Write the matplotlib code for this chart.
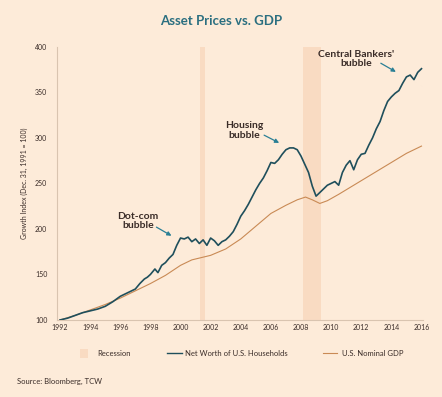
import matplotlib.pyplot as plt
import matplotlib.patches as patches
from matplotlib.lines import Line2D

# Net worth of U.S. households (growth index, Dec 31 1991 = 100)
nw_year = [1992.0, 1992.5, 1993.0, 1993.5, 1994.0, 1994.5, 1995.0, 1995.5, 1996.0, 1996.5,
           1997.0, 1997.3, 1997.6, 1997.8, 1998.0, 1998.3, 1998.5, 1998.75, 1999.0, 1999.25,
           1999.5, 1999.75, 2000.0, 2000.25, 2000.5, 2000.75, 2001.0, 2001.25, 2001.5, 2001.75,
           2002.0, 2002.25, 2002.5, 2002.75, 2003.0, 2003.25, 2003.5, 2003.75, 2004.0, 2004.25,
           2004.5, 2004.75, 2005.0, 2005.25, 2005.5, 2005.75, 2006.0, 2006.25, 2006.5, 2006.75,
           2007.0, 2007.25, 2007.5, 2007.75, 2008.0, 2008.25, 2008.5, 2008.75, 2009.0, 2009.25,
           2009.5, 2009.75, 2010.0, 2010.25, 2010.5, 2010.75, 2011.0, 2011.25, 2011.5, 2011.75,
           2012.0, 2012.25, 2012.5, 2012.75, 2013.0, 2013.25, 2013.5, 2013.75, 2014.0, 2014.25,
           2014.5, 2014.75, 2015.0, 2015.25, 2015.5, 2015.75, 2016.0]
nw_value = [100, 102, 105, 108, 110, 112, 115, 120, 126, 130,
            134, 140, 145, 147, 150, 156, 152, 160, 163, 168,
            172, 182, 190, 189, 191, 186, 189, 184, 188, 182,
            190, 187, 182, 186, 188, 192, 197, 205, 214, 220,
            227, 235, 243, 250, 256, 264, 273, 272, 276, 282,
            287, 289, 289, 287, 280, 271, 262, 247, 236, 240,
            244, 248, 250, 252, 248, 262, 270, 275, 265, 276,
            282, 283, 292, 300, 310, 318, 330, 340, 345, 349,
            352, 360, 367, 369, 364, 372, 376]

# U.S. nominal GDP (growth index)
gdp_year = [1992.0, 1993.0, 1994.0, 1995.0, 1996.0, 1997.0, 1998.0, 1999.0, 2000.0, 2000.75,
            2001.5, 2002.0, 2003.0, 2004.0, 2005.0, 2006.0, 2007.0, 2007.75, 2008.3, 2008.75,
            2009.25, 2009.75, 2010.5, 2011.0, 2012.0, 2013.0, 2014.0, 2015.0, 2016.0]
gdp_value = [100, 105, 111, 117, 124, 132, 140, 149, 160, 166,
             169, 171, 178, 189, 203, 217, 226, 232, 235, 232,
             228, 231, 238, 243, 253, 263, 273, 283, 291]

# Recession periods (start, end)
recessions = [(2001.3, 2001.6), (2008.1, 2009.3)]

years_ticks = list(range(1992, 2017, 2))
y_ticks = [100, 150, 200, 250, 300, 350, 400]

# Colours
bg = '#fdebd9'
band = '#f9dbc2'
nw_color = '#1f4f5c'
gdp_color = '#c98a55'
teal = '#2a7f95'
text_color = '#3a2c28'
font = 'Lato'

fig = plt.figure(figsize=(4.42, 3.97), dpi=100, facecolor=bg)
ax = fig.add_axes([0.129, 0.194, 0.828, 0.688], facecolor=bg)

for start, end in recessions:
    ax.axvspan(start, end, color=band, lw=0, zorder=0)

ax.plot(gdp_year, gdp_value, color=gdp_color, lw=0.8, zorder=2)
ax.plot(nw_year, nw_value, color=nw_color, lw=1.2, zorder=3)

ax.set_xlim(1991.8, 2016.1)
ax.set_ylim(100, 400)
ax.set_xticks(years_ticks)
ax.set_yticks(y_ticks)
ax.tick_params(length=0, labelsize=5, labelcolor=text_color)
ax.tick_params(axis='y', pad=7)
ax.tick_params(axis='x', pad=3)
for lab in ax.get_xticklabels() + ax.get_yticklabels():
    lab.set_family(font)
for s in ['top', 'right']:
    ax.spines[s].set_visible(False)
for s in ['left', 'bottom']:
    ax.spines[s].set_color('#d9c4b0')
    ax.spines[s].set_linewidth(0.8)

ax.set_ylabel('Growth Index (Dec. 31, 1991 = 100)', fontsize=5, family=font,
              color=text_color, labelpad=5)

# Annotations: text and arrow placed separately
def bubble(text, text_xy, arrow_from, arrow_to):
    ax.text(text_xy[0], text_xy[1], text, ha='center', va='center',
            fontsize=7.5, family=font, fontweight='bold', color=text_color,
            linespacing=1.05)
    ax.annotate('', xy=arrow_to, xytext=arrow_from,
                arrowprops=dict(arrowstyle='-|>', color=teal, lw=0.9,
                                mutation_scale=6, shrinkA=0, shrinkB=0))

bubble('Dot-com\nbubble', (1997.17, 209), (1998.4, 202), (1999.4, 192.5))
bubble('Housing\nbubble', (2004.25, 308), (2005.55, 303), (2006.55, 294.5))
bubble("Central Bankers'\nbubble", (2011.67, 387), (2013.3, 382), (2014.3, 372.5))

fig.text(0.5, 0.947, 'Asset Prices vs. GDP', ha='center', va='center',
         fontsize=9.5, family=font, fontweight='bold', color='#2b6f80')

# Legend, drawn by hand in figure coordinates
W, H = 442.0, 397.0
ly = 1 - 353 / H
fig.add_artist(patches.Rectangle((80 / W, 1 - 358 / H), 8 / W, 9 / H,
                                 transform=fig.transFigure, facecolor=band,
                                 edgecolor='none'))
fig.text(97 / W, ly, 'Recession', fontsize=5.5, family=font, color=text_color, va='center')
fig.add_artist(Line2D([167 / W, 182 / W], [ly, ly], transform=fig.transFigure,
                      color=nw_color, lw=1.0))
fig.text(185 / W, ly, 'Net Worth of U.S. Households', fontsize=5.5, family=font,
         color=text_color, va='center')
fig.add_artist(Line2D([323 / W, 337 / W], [ly, ly], transform=fig.transFigure,
                      color=gdp_color, lw=0.8))
fig.text(342 / W, ly, 'U.S. Nominal GDP', fontsize=5.5, family=font,
         color=text_color, va='center')

fig.text(0.038, 0.038, 'Source: Bloomberg, TCW', fontsize=5.5, family=font,
         color=text_color, va='center')

fig.savefig('out.png', dpi=100, facecolor=bg)
